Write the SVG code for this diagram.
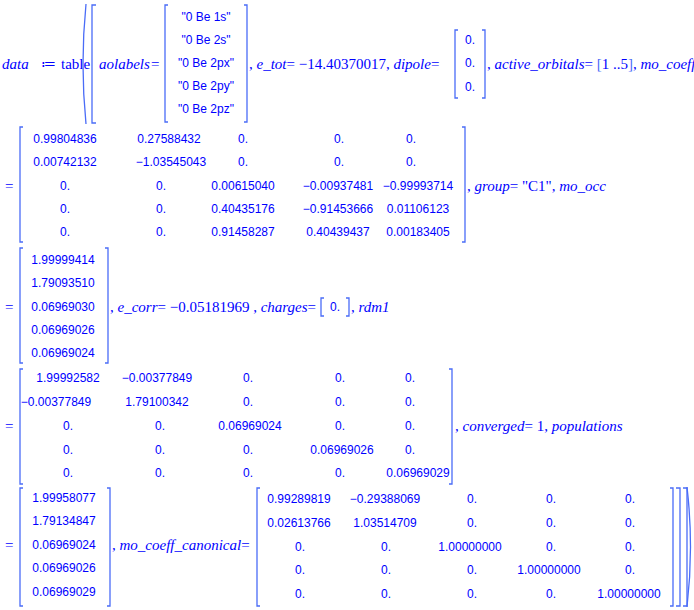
<svg xmlns="http://www.w3.org/2000/svg" width="694" height="610" viewBox="0 0 694 610">
<style>
text{fill:#0000ff;font-family:"Liberation Sans",Arial,sans-serif;font-size:12px;dominant-baseline:central}
.n{text-anchor:middle}
.i{font-family:"Liberation Serif",serif;font-style:italic;font-size:15px}
.r{font-family:"Liberation Serif",serif;font-size:15px}
.b{fill:none;stroke:#4a6cf7;stroke-width:1.3}
</style>
<rect width="694" height="610" fill="#fff"/>
<!-- Row 1 -->
<text x="2" y="64" class="i" font-size="16">data</text><text x="41" y="64" class="r" font-size="12">≔</text><text x="61" y="64" class="r">table</text>
<path class="b" d="M86,4 Q80,64 86,124"/>
<path class="b" d="M96,5 H92 V123 H96"/>
<text x="99" y="64" class="i">aolabels</text><text x="151" y="64" class="r">=</text>
<path class="b" d="M168,5 H165 V122 H168 M244,5 H247 V122 H244"/>
<g><text x="206" y="17" class="n">"0 Be 1s"</text><text x="206" y="40" class="n">"0 Be 2s"</text><text x="206" y="63" class="n">"0 Be 2px"</text><text x="206" y="86" class="n">"0 Be 2py"</text><text x="206" y="109" class="n">"0 Be 2pz"</text></g>
<text x="249" y="64" class="i"><tspan font-style="normal">, </tspan>e_tot<tspan font-style="normal">= −14.40370017, </tspan>dipole<tspan font-style="normal">=</tspan></text>
<path class="b" d="M458,30 H455 V98 H458 M482,30 H485 V98 H482"/>
<text x="470" y="40" class="n">0.</text><text x="470" y="63" class="n">0.</text><text x="470" y="87" class="n">0.</text>
<text x="487" y="64" class="i"><tspan font-style="normal">, </tspan>active_orbitals<tspan font-style="normal">= </tspan><tspan font-style="normal" fill="#4a6cf7">[</tspan><tspan font-style="normal">1 ..5</tspan><tspan font-style="normal" fill="#4a6cf7">]</tspan><tspan font-style="normal">, </tspan>mo_coeff</text>
<!-- Row 2 -->
<text x="5" y="186" class="r">=</text>
<path class="b" d="M23,127 H20 V242 H23 M462,127 H465 V242 H462"/>
<g>
<text x="65" y="139" class="n">0.99804836</text><text x="169" y="139" class="n">0.27588432</text><text x="243" y="139" class="n">0.</text><text x="339" y="139" class="n">0.</text><text x="411" y="139" class="n">0.</text>
<text x="65" y="162" class="n">0.00742132</text><text x="171" y="162" class="n">−1.03545043</text><text x="243" y="162" class="n">0.</text><text x="339" y="162" class="n">0.</text><text x="411" y="162" class="n">0.</text>
<text x="65" y="186" class="n">0.</text><text x="161" y="186" class="n">0.</text><text x="243" y="186" class="n">0.00615040</text><text x="338" y="186" class="n">−0.00937481</text><text x="418" y="186" class="n">−0.99993714</text>
<text x="65" y="209" class="n">0.</text><text x="161" y="209" class="n">0.</text><text x="243" y="209" class="n">0.40435176</text><text x="338" y="209" class="n">−0.91453666</text><text x="418" y="209" class="n">0.01106123</text>
<text x="65" y="232" class="n">0.</text><text x="161" y="232" class="n">0.</text><text x="243" y="232" class="n">0.91458287</text><text x="338" y="232" class="n">0.40439437</text><text x="418" y="232" class="n">0.00183405</text>
</g>
<text x="467" y="186" class="i"><tspan font-style="normal">, </tspan>group<tspan font-style="normal">= "C1", </tspan>mo_occ</text>
<!-- Row 3 -->
<text x="5" y="307" class="r">=</text>
<path class="b" d="M23,248 H20 V363 H23 M105,248 H108 V363 H105"/>
<text x="63" y="260" class="n">1.99999414</text><text x="63" y="283" class="n">1.79093510</text><text x="63" y="307" class="n">0.06969030</text><text x="63" y="330" class="n">0.06969026</text><text x="63" y="353" class="n">0.06969024</text>
<text x="110" y="307" class="i"><tspan font-style="normal">, </tspan>e_corr<tspan font-style="normal">= −0.05181969 , </tspan>charges<tspan font-style="normal">=</tspan></text>
<path class="b" d="M324,298 H321 V316 H324 M346,298 H349 V316 H346"/>
<text x="335" y="307" class="n">0.</text>
<text x="351" y="307" class="i"><tspan font-style="normal">, </tspan>rdm1</text>
<!-- Row 4 -->
<text x="5" y="426" class="r">=</text>
<path class="b" d="M23,369 H20 V484 H23 M449,369 H452 V484 H449"/>
<g>
<text x="68" y="378" class="n">1.99992582</text><text x="157" y="378" class="n">−0.00377849</text><text x="248" y="378" class="n">0.</text><text x="340" y="378" class="n">0.</text><text x="410" y="378" class="n">0.</text>
<text x="56" y="402" class="n">−0.00377849</text><text x="157" y="402" class="n">1.79100342</text><text x="248" y="402" class="n">0.</text><text x="340" y="402" class="n">0.</text><text x="410" y="402" class="n">0.</text>
<text x="68" y="426" class="n">0.</text><text x="160" y="426" class="n">0.</text><text x="250" y="426" class="n">0.06969024</text><text x="340" y="426" class="n">0.</text><text x="410" y="426" class="n">0.</text>
<text x="68" y="450" class="n">0.</text><text x="160" y="450" class="n">0.</text><text x="248" y="450" class="n">0.</text><text x="342" y="450" class="n">0.06969026</text><text x="410" y="450" class="n">0.</text>
<text x="68" y="473" class="n">0.</text><text x="160" y="473" class="n">0.</text><text x="248" y="473" class="n">0.</text><text x="340" y="473" class="n">0.</text><text x="418" y="473" class="n">0.06969029</text>
</g>
<text x="455" y="426" class="i"><tspan font-style="normal">, </tspan>converged<tspan font-style="normal">= 1, </tspan>populations</text>
<!-- Row 5 -->
<text x="5" y="545" class="r">=</text>
<path class="b" d="M23,488 H20 V606 H23 M107,488 H110 V606 H107"/>
<text x="64" y="498" class="n">1.99958077</text><text x="64" y="521" class="n">1.79134847</text><text x="64" y="545" class="n">0.06969024</text><text x="64" y="568" class="n">0.06969026</text><text x="64" y="592" class="n">0.06969029</text>
<text x="112" y="545" class="i"><tspan font-style="normal">, </tspan>mo_coeff_canonical<tspan font-style="normal">=</tspan></text>
<path class="b" d="M260,488 H257 V606 H260 M670,488 H673 V606 H670"/>
<g>
<text x="299" y="499" class="n">0.99289819</text><text x="385" y="499" class="n">−0.29388069</text><text x="472" y="499" class="n">0.</text><text x="551" y="499" class="n">0.</text><text x="630" y="499" class="n">0.</text>
<text x="299" y="523" class="n">0.02613766</text><text x="385" y="523" class="n">1.03514709</text><text x="472" y="523" class="n">0.</text><text x="551" y="523" class="n">0.</text><text x="630" y="523" class="n">0.</text>
<text x="300" y="547" class="n">0.</text><text x="386" y="547" class="n">0.</text><text x="470" y="547" class="n">1.00000000</text><text x="551" y="547" class="n">0.</text><text x="630" y="547" class="n">0.</text>
<text x="300" y="570" class="n">0.</text><text x="386" y="570" class="n">0.</text><text x="472" y="570" class="n">0.</text><text x="549" y="570" class="n">1.00000000</text><text x="630" y="570" class="n">0.</text>
<text x="300" y="594" class="n">0.</text><text x="386" y="594" class="n">0.</text><text x="472" y="594" class="n">0.</text><text x="551" y="594" class="n">0.</text><text x="629" y="594" class="n">1.00000000</text>
</g>
<path class="b" d="M676,488 H680 V606 H676"/>
<path class="b" d="M683,488 H687 V606 H683"/>
<path class="b" d="M687,487 Q694,547 687,607"/>
</svg>
